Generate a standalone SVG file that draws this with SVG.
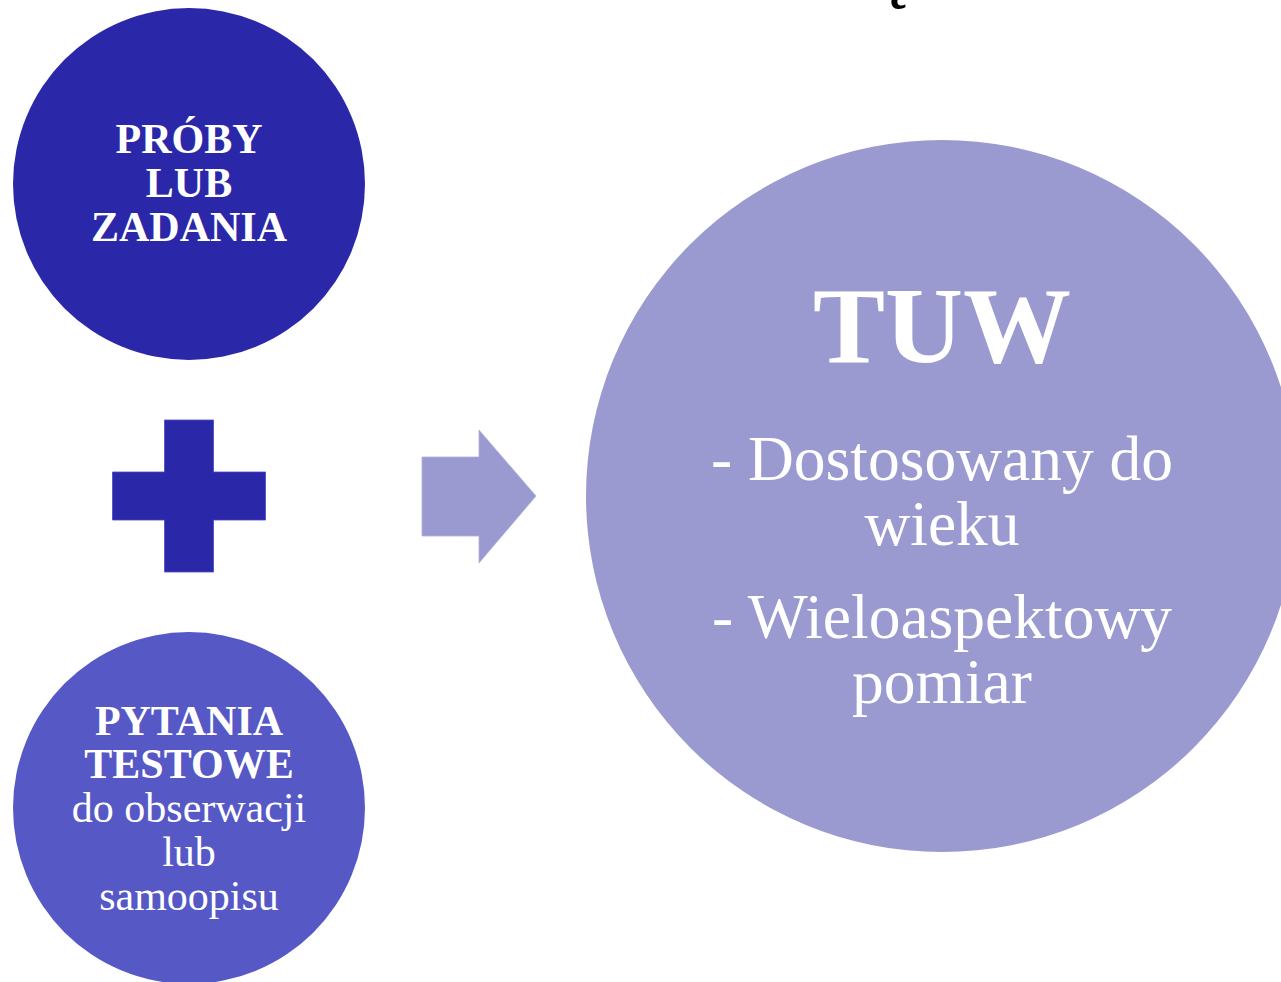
<svg xmlns="http://www.w3.org/2000/svg" width="1281" height="982" viewBox="0 0 1281 982">
<style>
text{font-family:"Liberation Serif","Times New Roman",serif;fill:#ffffff;text-anchor:middle}
.b{font-weight:bold}
.s42{font-size:42px}
.s64{font-size:63.5px}
</style>
<rect x="0" y="0" width="1281" height="982" fill="#ffffff"/>
<text x="893" y="-5" class="b" style="font-size:66px;fill:#000000">ę</text>
<g id="node-proby">
<circle cx="189" cy="184" r="176" fill="#2A28A8"/>
<text x="189" y="153" class="b s42">PRÓBY</text>
<text x="189" y="197" class="b s42">LUB</text>
<text x="189" y="241" class="b s42">ZADANIA</text>
</g>
<g id="node-plus">
<path d="M164.5 420H213.5V472H265.5V520H213.5V572H164.5V520H112.5V472H164.5Z" fill="#2A28A8" stroke="#4a48c0" stroke-width="0.8"/>
</g>
<g id="node-pytania">
<circle cx="189" cy="808" r="176" fill="#5658C6"/>
<text x="189" y="735" class="b s42">PYTANIA</text>
<text x="189" y="778" class="b s42">TESTOWE</text>
<text x="189" y="822" class="s42">do obserwacji</text>
<text x="189" y="866" class="s42">lub</text>
<text x="189" y="910" class="s42">samoopisu</text>
</g>
<g id="connectors">
<path d="M422 457H479V430L536 496L479 563V536H422Z" fill="#9A9AD1" stroke="#b0b0de" stroke-width="0.8"/>
</g>
<g id="node-tuw">
<circle cx="942" cy="496" r="356" fill="#9A9AD1"/>
<text x="942" y="362" class="b" style="font-size:108px">TUW</text>
<text x="942" y="480" class="s64">- Dostosowany do</text>
<text x="942" y="545" class="s64">wieku</text>
<text x="942" y="638" class="s64">- Wieloaspektowy</text>
<text x="942" y="703" class="s64">pomiar</text>
</g>
</svg>
